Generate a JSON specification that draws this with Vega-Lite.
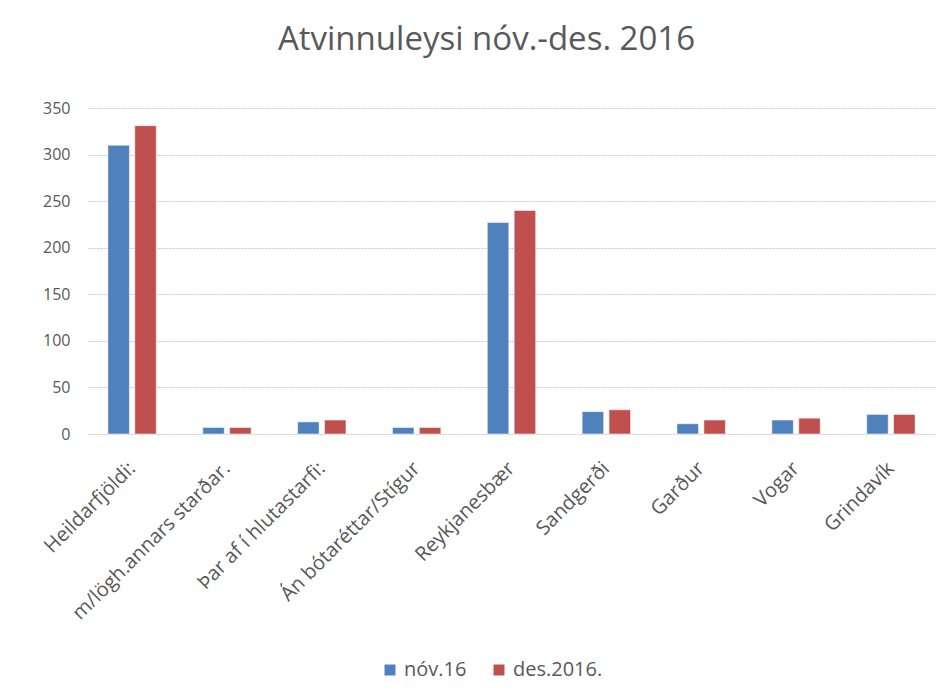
{
  "$schema": "https://vega.github.io/schema/vega-lite/v6.json",
  "autosize": {"type": "none"},
  "width": 847,
  "height": 326,
  "padding": {"left": 88, "top": 108, "right": 14, "bottom": 266},
  "background": "white",
  "title": {
    "text": "Atvinnuleysi nóv.-des. 2016",
    "font": "Open Sans",
    "fontSize": 33,
    "fontWeight": "normal",
    "color": "#595959",
    "anchor": "middle",
    "offset": 43,
    "dx": -25
  },
  "data": {
    "values": [
      {"flokkur": "Heildarfjöldi:", "timabil": "nóv.16", "fjoldi": 310},
      {"flokkur": "Heildarfjöldi:", "timabil": "des.2016.", "fjoldi": 331},
      {"flokkur": "m/lögh.annars starðar.", "timabil": "nóv.16", "fjoldi": 7},
      {"flokkur": "m/lögh.annars starðar.", "timabil": "des.2016.", "fjoldi": 7},
      {"flokkur": "Þar af í hlutastarfi:", "timabil": "nóv.16", "fjoldi": 13},
      {"flokkur": "Þar af í hlutastarfi:", "timabil": "des.2016.", "fjoldi": 15},
      {"flokkur": "Án bótaréttar/Stígur", "timabil": "nóv.16", "fjoldi": 7},
      {"flokkur": "Án bótaréttar/Stígur", "timabil": "des.2016.", "fjoldi": 7},
      {"flokkur": "Reykjanesbær", "timabil": "nóv.16", "fjoldi": 227},
      {"flokkur": "Reykjanesbær", "timabil": "des.2016.", "fjoldi": 240},
      {"flokkur": "Sandgerði", "timabil": "nóv.16", "fjoldi": 24},
      {"flokkur": "Sandgerði", "timabil": "des.2016.", "fjoldi": 26},
      {"flokkur": "Garður", "timabil": "nóv.16", "fjoldi": 11},
      {"flokkur": "Garður", "timabil": "des.2016.", "fjoldi": 15},
      {"flokkur": "Vogar", "timabil": "nóv.16", "fjoldi": 15},
      {"flokkur": "Vogar", "timabil": "des.2016.", "fjoldi": 17},
      {"flokkur": "Grindavík", "timabil": "nóv.16", "fjoldi": 21},
      {"flokkur": "Grindavík", "timabil": "des.2016.", "fjoldi": 21}
    ]
  },
  "mark": {"type": "bar", "stroke": "#ffffff", "strokeOpacity": 0.5, "strokeWidth": 1},
  "encoding": {
    "x": {
      "field": "flokkur",
      "type": "nominal",
      "sort": null,
      "title": null,
      "scale": {"paddingInner": 0.49, "paddingOuter": 0.21},
      "axis": {
        "labelAngle": -45,
        "labelFont": "Open Sans",
        "labelFontSize": 20,
        "labelColor": "#595959",
        "labelPadding": 24,
        "labelOffset": -7,
        "labelLimit": 400,
        "labelOverlap": false,
        "ticks": false,
        "domain": false,
        "grid": false
      }
    },
    "xOffset": {"field": "timabil", "type": "nominal", "sort": ["nóv.16", "des.2016."], "scale": {"paddingInner": 0.2}},
    "y": {
      "field": "fjoldi",
      "type": "quantitative",
      "title": null,
      "scale": {"domain": [0, 350], "nice": false},
      "axis": {
        "values": [0, 50, 100, 150, 200, 250, 300, 350],
        "labelFont": "Open Sans",
        "labelFontSize": 16,
        "labelColor": "#595959",
        "labelPadding": 18,
        "ticks": false,
        "domain": false,
        "gridColor": "#c8c8c8",
        "gridDash": [2, 1],
        "gridWidth": 1
      }
    },
    "color": {
      "field": "timabil",
      "type": "nominal",
      "sort": ["nóv.16", "des.2016."],
      "scale": {"domain": ["nóv.16", "des.2016."], "range": ["#4F81BD", "#C0504D"]},
      "legend": {
        "title": null,
        "orient": "none",
        "legendX": 292,
        "legendY": 552,
        "direction": "horizontal",
        "symbolType": "square",
        "symbolSize": 121,
        "symbolStrokeWidth": 0,
        "labelFont": "Open Sans",
        "labelFontSize": 20,
        "labelColor": "#595959",
        "columnPadding": 22
      }
    }
  },
  "config": {"view": {"stroke": null}}
}
